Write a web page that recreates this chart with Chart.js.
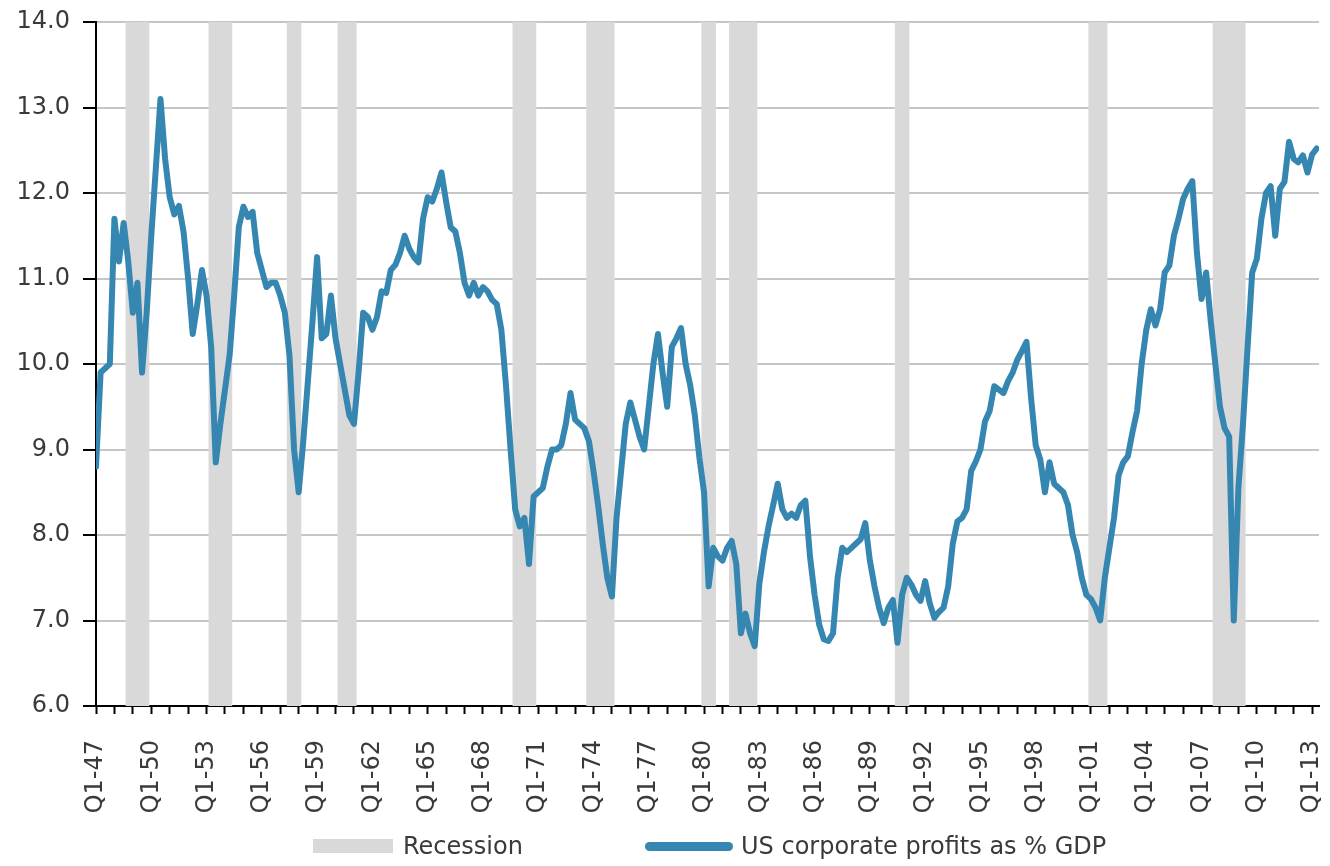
<!DOCTYPE html>
<html>
<head>
<meta charset="utf-8">
<title>US corporate profits as % GDP</title>
<script src="https://cdn.jsdelivr.net/npm/chart.js@4.4.1/dist/chart.umd.min.js"></script>
<style>
  html, body { margin: 0; padding: 0; background: #fff; }
  .wrap { position: relative; width: 1330px; height: 866px; }
  .chart-box { position: absolute; left: 0; top: 0; width: 1330px; height: 866px; }
  .legend { position: absolute; left: 0; top: 830px; width: 1330px; height: 32px; font-family: 'DejaVu Sans', sans-serif; font-size: 24px; color: #3a3a3a; }
  .legend-item { position: absolute; top: 0; height: 32px; display: flex; align-items: center; white-space: nowrap; }
  .legend-swatch { margin-right: 10px; }
</style>
</head>
<body>
<div class="wrap">
  <div class="chart-box"><canvas id="profitsChart"></canvas></div>
  <div class="legend" id="legend"></div>
</div>
<script>
// quarterly series, Q1-47 .. Q2-13
const profits1940s = [8.8, 9.9, 9.95, 10.0, 11.7, 11.2, 11.65, 11.2, 10.6, 10.95, 9.9, 10.6];
const profits1950s = [11.5, 12.3, 13.1, 12.4, 11.95, 11.75, 11.85, 11.55, 11.0, 10.35,
    10.7, 11.1, 10.8, 10.2, 8.85, 9.3, 9.7, 10.1, 10.8, 11.6,
    11.84, 11.72, 11.78, 11.3, 11.1, 10.9, 10.95, 10.95, 10.8, 10.6,
    10.1, 9.0, 8.5, 9.1, 9.8, 10.5, 11.25, 10.3, 10.35, 10.8];
const profits1960s = [10.3, 10.0, 9.7, 9.4, 9.3, 9.9, 10.6, 10.55, 10.4, 10.55,
    10.85, 10.83, 11.1, 11.16, 11.3, 11.5, 11.35, 11.25, 11.19, 11.7,
    11.95, 11.9, 12.05, 12.24, 11.9, 11.6, 11.55, 11.3, 10.95, 10.8,
    10.95, 10.8, 10.9, 10.85, 10.75, 10.7, 10.4, 9.75, 9.0, 8.3];
const profits1970s = [8.1, 8.2, 7.66, 8.45, 8.5, 8.55, 8.8, 9.0, 9.0, 9.05,
    9.3, 9.66, 9.35, 9.3, 9.25, 9.1, 8.75, 8.35, 7.9, 7.5,
    7.28, 8.2, 8.75, 9.3, 9.55, 9.35, 9.15, 9.0, 9.5, 10.0,
    10.35, 9.9, 9.5, 10.2, 10.3, 10.42, 10.0, 9.75, 9.4, 8.9];
const profits1980s = [8.5, 7.4, 7.85, 7.75, 7.7, 7.85, 7.93, 7.66, 6.85, 7.08,
    6.85, 6.7, 7.43, 7.8, 8.1, 8.35, 8.6, 8.3, 8.2, 8.25,
    8.2, 8.35, 8.4, 7.75, 7.3, 6.95, 6.78, 6.76, 6.85, 7.5,
    7.85, 7.8, 7.85, 7.9, 7.95, 8.14, 7.7, 7.4, 7.15, 6.97];
const profits1990s = [7.15, 7.24, 6.74, 7.3, 7.5, 7.42, 7.3, 7.23, 7.46, 7.2,
    7.03, 7.1, 7.15, 7.4, 7.9, 8.16, 8.2, 8.3, 8.75, 8.86,
    9.0, 9.33, 9.45, 9.74, 9.7, 9.66, 9.8, 9.9, 10.05, 10.15,
    10.26, 9.6, 9.05, 8.88, 8.5, 8.85, 8.6, 8.55, 8.5, 8.35];
const profits2000s = [8.0, 7.8, 7.5, 7.3, 7.25, 7.15, 7.0, 7.5, 7.85, 8.2,
    8.7, 8.85, 8.92, 9.2, 9.45, 10.0, 10.4, 10.64, 10.45, 10.64,
    11.07, 11.15, 11.5, 11.7, 11.93, 12.05, 12.14, 11.3, 10.76, 11.07,
    10.5, 10.0, 9.5, 9.25, 9.15, 7.0, 8.55, 9.3, 10.2, 11.07];
const profits2010s = [11.23, 11.7, 12.0, 12.08, 11.5, 12.05, 12.13, 12.6, 12.4, 12.36,
    12.44, 12.24, 12.45, 12.52];

const xTickLabels = ['Q1-47', 'Q1-50', 'Q1-53', 'Q1-56', 'Q1-59', 'Q1-62', 'Q1-65', 'Q1-68',
    'Q1-71', 'Q1-74', 'Q1-77', 'Q1-80', 'Q1-83', 'Q1-86', 'Q1-89', 'Q1-92', 'Q1-95',
    'Q1-98', 'Q1-01', 'Q1-04', 'Q1-07', 'Q1-10', 'Q1-13'];

// NBER recessions, first and last quarter
const recessionStarts = ['Q4-48', 'Q2-53', 'Q3-57', 'Q2-60', 'Q4-69', 'Q4-73', 'Q1-80', 'Q3-81', 'Q3-90', 'Q1-01', 'Q4-07'];
const recessionEnds = ['Q4-49', 'Q2-54', 'Q1-58', 'Q1-61', 'Q4-70', 'Q1-75', 'Q3-80', 'Q4-82', 'Q1-91', 'Q4-01', 'Q2-09'];

const yMin = 6, yMax = 14;

const profits = [].concat(profits1940s, profits1950s, profits1960s, profits1970s,
    profits1980s, profits1990s, profits2000s, profits2010s);

function quarterIndex(label) {
    const q = parseInt(label.charAt(1), 10);
    const yy = parseInt(label.slice(3), 10);
    const year = yy >= 47 ? 1900 + yy : 2000 + yy;
    return (year - 1947) * 4 + (q - 1);
}

const recessionPoints = [];
recessionStarts.forEach((s, k) => {
    for (let i = quarterIndex(s); i <= quarterIndex(recessionEnds[k]); i++) {
        recessionPoints.push({ x: i, y: [yMin, yMax] });
    }
});

const profitPoints = profits.map((v, i) => ({ x: i, y: v }));

const textColor = '#3a3a3a';
const tickFont = { family: 'DejaVu Sans', size: 24 };

const chart = new Chart(document.getElementById('profitsChart'), {
    type: 'line',
    data: {
        datasets: [
            {
                type: 'line', label: 'US corporate profits as % GDP', data: profitPoints,
                borderColor: '#3587b2', backgroundColor: '#3587b2', borderWidth: 6,
                pointRadius: 0, tension: 0, borderJoinStyle: 'round', borderCapStyle: 'round', order: 1
            },
            {
                type: 'bar', label: 'Recession', data: recessionPoints,
                backgroundColor: '#d9d9d9', borderWidth: 0, barPercentage: 1, categoryPercentage: 1,
                grouped: false, order: 2
            }
        ]
    },
    options: {
        responsive: true,
        maintainAspectRatio: false,
        animation: false,
        layout: { padding: { top: 22, right: 11, left: 0, bottom: 0 } },
        plugins: { legend: { display: false }, tooltip: { enabled: false } },
        scales: {
            x: {
                type: 'linear', min: 0, max: 265.5, offset: false,
                grid: { drawOnChartArea: false, offset: false, tickLength: 8, tickColor: '#000', tickWidth: 2 },
                border: { color: '#000', width: 2 },
                ticks: {
                    stepSize: 4, includeBounds: false, autoSkip: false, maxRotation: 90, minRotation: 90,
                    padding: 26, color: textColor, font: tickFont,
                    callback: v => (v % 12 === 0 ? xTickLabels[v / 12] : '')
                },
                afterFit: s => { s.height = 160; s.paddingLeft = 0; s.paddingRight = 0; }
            },
            y: {
                min: yMin, max: yMax, beginAtZero: false,
                grid: { color: '#c6c6c6', lineWidth: 2, tickLength: 13, tickColor: '#000', tickWidth: 2 },
                border: { color: '#000', width: 2 },
                ticks: { stepSize: 1, padding: 13, color: textColor, font: tickFont, callback: v => v.toFixed(1) },
                afterFit: s => { s.width = 96; s.paddingTop = 0; s.paddingBottom = 0; }
            }
        }
    }
});

// legend below the axis labels, built from the datasets
const legendEl = document.getElementById('legend');
const legendLeft = { 'Recession': 313, 'US corporate profits as % GDP': 645 };
[chart.data.datasets[1], chart.data.datasets[0]].forEach(ds => {
    const item = document.createElement('div');
    item.className = 'legend-item';
    item.style.left = legendLeft[ds.label] + 'px';
    const sw = document.createElement('span');
    sw.className = 'legend-swatch';
    if (ds.type === 'bar') {
        sw.style.cssText = 'display:inline-block;width:80px;height:14px;background:' + ds.backgroundColor;
    } else {
        sw.style.cssText = 'display:inline-block;width:88px;height:9px;border-radius:5px;margin-right:8px;background:' + ds.borderColor;
    }
    const tx = document.createElement('span');
    tx.textContent = ds.label;
    item.appendChild(sw);
    item.appendChild(tx);
    legendEl.appendChild(item);
});
</script>
</body>
</html>
